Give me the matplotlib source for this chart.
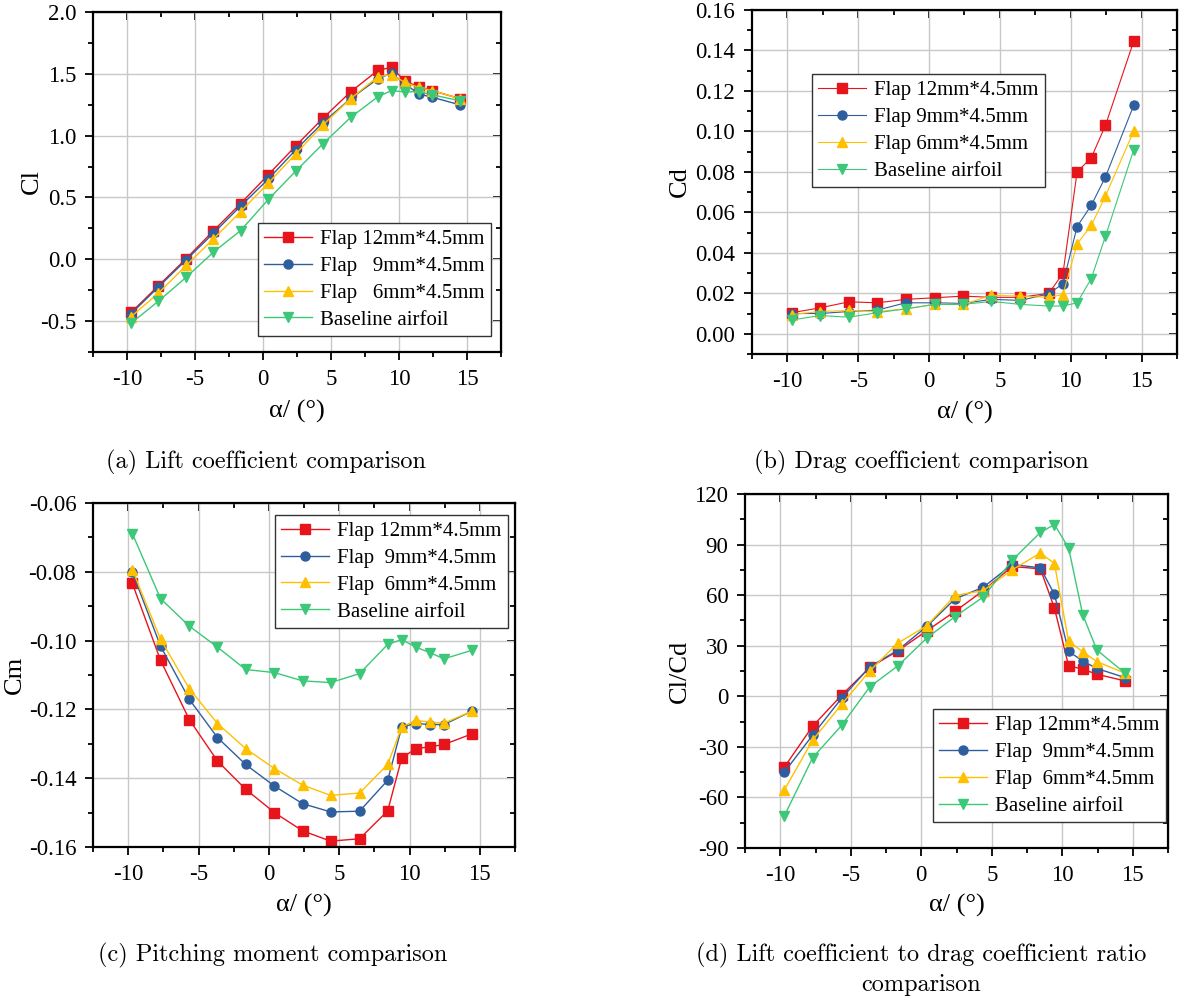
import matplotlib
matplotlib.use("Agg")
import matplotlib.pyplot as plt
from matplotlib.ticker import MultipleLocator, FormatStrFormatter

plt.rcParams['font.family'] = ['Liberation Serif', 'DejaVu Serif']
plt.rcParams['axes.unicode_minus'] = False

# angle of attack (deg)
alpha = [-9.7, -7.7, -5.65, -3.65, -1.65, 0.4, 2.4, 4.4, 6.45, 8.45,
         9.45, 10.45, 11.45, 12.45, 14.45]

# lift coefficient
cl_12 = [-0.43, -0.215, 0.005, 0.23, 0.45, 0.685, 0.916, 1.14, 1.355, 1.528,
         1.553, 1.44, 1.396, 1.364, 1.30]
cl_9 = [-0.44, -0.226, -0.005, 0.21, 0.43, 0.65, 0.884, 1.105, 1.30, 1.46,
        1.505, 1.418, 1.337, 1.31, 1.25]
cl_6 = [-0.464, -0.275, -0.05, 0.164, 0.385, 0.617, 0.852, 1.086, 1.30, 1.477,
        1.493, 1.43, 1.39, 1.364, 1.30]
cl_base = [-0.517, -0.34, -0.146, 0.057, 0.232, 0.485, 0.712, 0.933, 1.148, 1.315,
           1.364, 1.353, 1.356, 1.33, 1.283]

# drag coefficient
cd_12 = [0.0104, 0.0128, 0.0158, 0.0153, 0.017, 0.0178, 0.0186, 0.018, 0.018, 0.020,
         0.0298, 0.080, 0.087, 0.103, 0.1447]
cd_9 = [0.010, 0.010, 0.011, 0.0117, 0.0153, 0.0153, 0.015, 0.017, 0.0165, 0.0197,
        0.0248, 0.053, 0.0635, 0.0775, 0.113]
cd_6 = [0.0095, 0.011, 0.0115, 0.011, 0.0123, 0.0146, 0.0145, 0.019, 0.0186, 0.018,
        0.0194, 0.0444, 0.0536, 0.068, 0.1003]
cd_base = [0.0068, 0.009, 0.0082, 0.0104, 0.0123, 0.0145, 0.0145, 0.016, 0.0145, 0.0137,
           0.0137, 0.0153, 0.0273, 0.0482, 0.091]

# pitching moment coefficient
cm_12 = [-0.0834, -0.1057, -0.123, -0.135, -0.1432, -0.150, -0.1553, -0.1583, -0.1576, -0.1495,
         -0.1341, -0.1314, -0.1309, -0.1302, -0.1271]
cm_9 = [-0.0801, -0.1016, -0.1171, -0.1282, -0.136, -0.1423, -0.1474, -0.1498, -0.1496, -0.1406,
        -0.1251, -0.1241, -0.1244, -0.1244, -0.1205]
cm_6 = [-0.0794, -0.0996, -0.114, -0.1241, -0.1314, -0.1372, -0.142, -0.145, -0.1443, -0.136,
        -0.1251, -0.1232, -0.1237, -0.124, -0.1205]
cm_base = [-0.0689, -0.0878, -0.0958, -0.1019, -0.1084, -0.1093, -0.1117, -0.1122, -0.1096, -0.1011,
           -0.0997, -0.1019, -0.1035, -0.1053, -0.1028]

# lift to drag ratio
ld_12 = [-41.9, -17.7, 0.6, 17.1, 27.0, 38.9, 50.4, 62.7, 77.0, 75.6,
         52.2, 18.1, 16.1, 13.1, 9.1]
ld_9 = [-44.9, -23.0, -1.2, 17.5, 27.4, 41.5, 57.8, 64.7, 78.2, 76.2,
        60.4, 26.6, 21.0, 16.5, 11.1]
ld_6 = [-55.4, -26.0, -4.8, 15.1, 31.6, 41.9, 59.8, 62.7, 75.0, 85.0,
        78.7, 32.6, 26.4, 20.6, 13.7]
ld_base = [-70.8, -36.4, -17.3, 5.6, 18.1, 34.6, 47.3, 58.9, 80.7, 97.2,
           101.9, 88.0, 48.5, 27.5, 13.7]

colors = ['#E8141C', '#2F5E9E', '#FFC000', '#3CC878']
markers = ['s', 'o', '^', 'v']

W, H = 1184, 1000
fig = plt.figure(figsize=(W / 100, H / 100), dpi=100)


def px_axes(l, t, r, b):
    return fig.add_axes([l / W, 1 - b / H, (r - l) / W, (b - t) / H])


def style_axes(ax, ylim, ymaj, ymin, yfmt):
    ax.set_xlim(-12.5, 17.5)
    ax.set_ylim(*ylim)
    ax.xaxis.set_major_locator(MultipleLocator(5))
    ax.xaxis.set_minor_locator(MultipleLocator(2.5))
    ax.yaxis.set_major_locator(MultipleLocator(ymaj))
    ax.yaxis.set_minor_locator(MultipleLocator(ymin))
    ax.yaxis.set_major_formatter(FormatStrFormatter(yfmt))
    ax.xaxis.set_major_formatter(FormatStrFormatter('%d'))
    ax.grid(True, which='major', color='#C8C8C8', linewidth=1.0)
    ax.set_axisbelow(True)
    for s in ax.spines.values():
        s.set_linewidth(1.6)
    ax.tick_params(which='both', direction='out', top=False, right=False,
                   labelsize=16.5, width=1.3, pad=6)
    ax.tick_params(which='major', length=6)
    ax.tick_params(which='minor', length=3.5)
    # inward ticks on top and right spines
    sx = ax.secondary_xaxis('top')
    sx.xaxis.set_major_locator(MultipleLocator(5))
    sx.xaxis.set_minor_locator(MultipleLocator(2.5))
    sx.tick_params(which='both', direction='in', labeltop=False, width=1.3)
    sx.tick_params(which='major', length=6)
    sx.tick_params(which='minor', length=3.5)
    sy = ax.secondary_yaxis('right')
    sy.yaxis.set_major_locator(MultipleLocator(ymaj))
    sy.yaxis.set_minor_locator(MultipleLocator(ymin))
    sy.tick_params(which='both', direction='in', labelright=False, width=1.3)
    sy.tick_params(which='major', length=6)
    sy.tick_params(which='minor', length=3.5)


def draw(ax, series, labels, lw=1.0):
    for y, lab, c, m in zip(series, labels, colors, markers):
        ax.plot(alpha, y, color=c, marker=m, markersize=6.5, linewidth=lw,
                label=lab, clip_on=False)


def add_legend(ax, x0, y0):
    leg = ax.legend(loc='lower left', bbox_to_anchor=(x0, y0), fontsize=15,
                    frameon=True, fancybox=False, framealpha=1, edgecolor='#333333',
                    handlelength=2.3, handletextpad=0.4, labelspacing=0.35,
                    borderpad=0.3, borderaxespad=0)
    leg.get_frame().set_linewidth(1.0)


def labels_for(ax, ylab, ylx, xly):
    ax.text(ylx, 0.5, ylab, transform=ax.transAxes, rotation=90,
            ha='center', va='center', fontsize=19)
    ax.text(0.5, xly, 'α/ (°)', transform=ax.transAxes,
            ha='center', va='center', fontsize=19)


# (a) lift coefficient
ax_a = px_axes(93, 12, 501, 352)
style_axes(ax_a, (-0.75, 2.0), 0.5, 0.25, '%.1f')
draw(ax_a, [cl_12, cl_9, cl_6, cl_base],
     ['Flap 12mm*4.5mm', 'Flap   9mm*4.5mm', 'Flap   6mm*4.5mm', 'Baseline airfoil'])
add_legend(ax_a, 0.404, 0.047)
labels_for(ax_a, 'Cl', -0.15, -0.176)

# (b) drag coefficient
ax_b = px_axes(752, 10, 1177, 354)
style_axes(ax_b, (-0.01, 0.16), 0.02, 0.01, '%.2f')
draw(ax_b, [cd_12, cd_9, cd_6, cd_base],
     ['Flap 12mm*4.5mm', 'Flap 9mm*4.5mm', 'Flap 6mm*4.5mm', 'Baseline airfoil'], lw=0.8)
add_legend(ax_b, 0.141, 0.485)
labels_for(ax_b, 'Cd', -0.17, -0.169)

# (c) pitching moment
ax_c = px_axes(93, 503, 515, 847)
style_axes(ax_c, (-0.16, -0.06), 0.02, 0.01, '%.2f')
draw(ax_c, [cm_12, cm_9, cm_6, cm_base],
     ['Flap 12mm*4.5mm', 'Flap  9mm*4.5mm', 'Flap  6mm*4.5mm', 'Baseline airfoil'])
add_legend(ax_c, 0.431, 0.637)
labels_for(ax_c, 'Cm', -0.185, -0.169)

# (d) lift to drag ratio
ax_d = px_axes(745, 494, 1168, 848)
style_axes(ax_d, (-90, 120), 30, 15, '%d')
draw(ax_d, [ld_12, ld_9, ld_6, ld_base],
     ['Flap 12mm*4.5mm', 'Flap  9mm*4.5mm', 'Flap  6mm*4.5mm', 'Baseline airfoil'])
add_legend(ax_d, 0.444, 0.073)
labels_for(ax_d, 'Cl/Cd', -0.155, -0.161)

# captions
cap = dict(ha='center', va='center', fontsize=17.5, family='cmr10')
fig.text(266 / W, 1 - 462 / H, '(a) Lift coefficient comparison', **cap)
fig.text(921 / W, 1 - 462 / H, '(b) Drag coefficient comparison', **cap)
fig.text(273 / W, 1 - 955 / H, '(c) Pitching moment comparison', **cap)
fig.text(921 / W, 1 - 955 / H, '(d) Lift coefficient to drag coefficient ratio', **cap)
fig.text(921 / W, 1 - 985 / H, 'comparison', **cap)

fig.savefig('out.png', dpi=100)
